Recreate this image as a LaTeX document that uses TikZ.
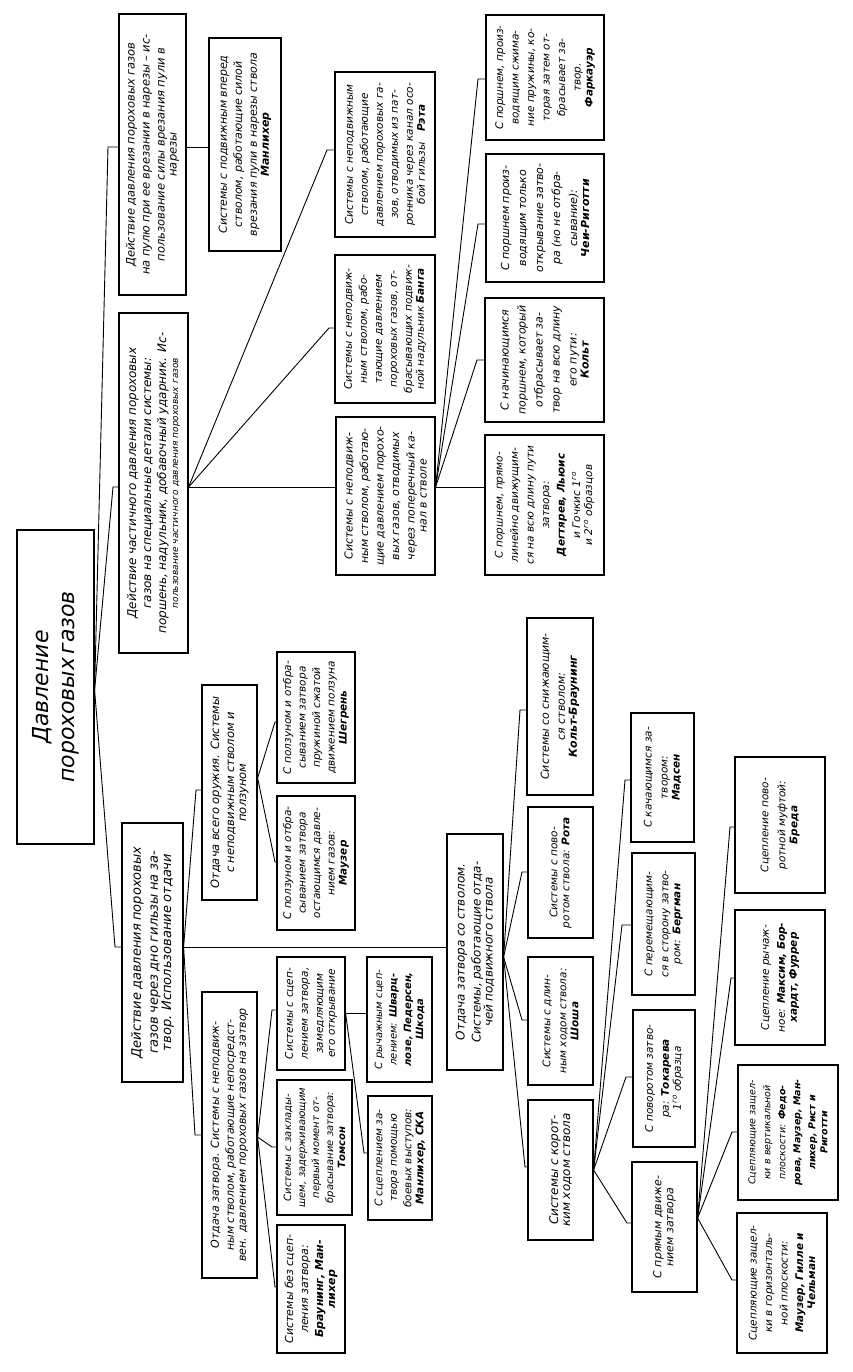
\documentclass[tikz,border=0pt]{standalone}
\usepackage{fontspec}
\setmainfont{DejaVu Sans}[ItalicFont={DejaVu Sans Oblique},BoldFont={DejaVu Sans Bold},BoldItalicFont={DejaVu Sans Bold Oblique}]
\tikzset{
  tbox/.style={draw, line width=1.2pt, rotate=90, inner sep=2pt, align=center, anchor=center, font=\itshape},
  conn/.style={line width=0.9pt}
}
\newcommand\Bx[8]{%
  \pgfmathsetmacro\bxcx{(#2+#4)/2}\pgfmathsetmacro\bxcy{(#3+#5)/2}%
  \pgfmathsetmacro\bxw{#5-#3}\pgfmathsetmacro\bxh{#4-#2}\pgfmathsetmacro\bxtw{#5-#3-8}%
  \node[tbox, minimum width=\bxw pt, minimum height=\bxh pt, text width=\bxtw pt] (#1) at (\bxcx,\bxcy) {\fontsize{#6}{#7}\selectfont #8};}
\newcommand\lnk[3]{\draw[conn] (#1) -- (#2) -- (#3.north |- #2);}
\begin{document}
\begin{tikzpicture}[x=1pt,y=-1pt]
\useasboundingbox (0,0) rectangle (852,1372);
\fill[white] (0,0) rectangle (852,1372);
% level 0
\Bx{R}{17}{530}{94}{844}{22}{26}{Давление\\[9pt]пороховых газов}
% level 1
\Bx{A1}{119}{14}{186}{295}{11.5}{15}{Действие давления пороховых газов\\на пулю при ее врезании в нарезы – ис-\\пользование силы врезания пули в\\нарезы}
\Bx{A2}{119}{313}{188}{653}{12}{15}{Действие частичного давления пороховых\\газов на специальные детали системы:\\поршень, надульник, добавочный ударник. Ис-\\{\fontsize{9}{12}\selectfont пользование частичного давления пороховых газов}}
\Bx{A3}{122}{823}{183}{1082}{13}{17}{Действие давления пороховых\\газов через дно гильзы на за-\\твор. Использование отдачи}
% A1 branch
\Bx{B1}{209}{38}{281}{251}{11}{15}{Системы с подвижным вперед\\стволом, работающие силой\\врезания пули в нарезы ствола\\\textbf{Манлихер}}
% A2 branch
\Bx{C3}{335}{72}{435}{237}{10.5}{15}{Системы с неподвижным\\стволом, работающие\\давлением пороховых га-\\зов, отводимых из пат-\\ронника через канал осо-\\бой гильзы\quad\textbf{Рэта}}
\Bx{C2}{335}{255}{435}{403}{10.5}{15}{Системы с неподвиж-\\ным стволом, рабо-\\тающие давлением\\пороховых газов, от-\\брасывающих подвиж-\\ной надульник \textbf{Банга}}
\Bx{C1}{336}{417}{435}{575}{11}{15.5}{Системы с неподвиж-\\ным стволом, работаю-\\щие давлением порохо-\\вых газов, отводимых\\через поперечный ка-\\нал в стволе}
\Bx{D4}{486}{15}{604}{140}{10.5}{15.5}{С поршнем, произ-\\водящим сжима-\\ние пружины, ко-\\торая затем от-\\брасывает за-\\твор.\\\textbf{Фаркауэр}}
\Bx{D3}{486}{154}{604}{282}{11}{17}{С поршнем произ-\\водящим только\\открывание затво-\\ра (но не отбра-\\сывание):\\\textbf{Чеи-Риготти}}
\Bx{D2}{485}{298}{604}{422}{11}{17}{С начинающимся\\поршнем, который\\отбрасывает за-\\твор на всю длину\\его пути:\\\textbf{Кольт}}
\Bx{D1}{485}{435}{604}{575}{10.5}{15.5}{С поршнем, прямо-\\линейно движущим-\\ся на всю длину пути\\затвора:\\\textbf{Дегтярев, Льюис}\\и Гочкис 1\textsuperscript{го}\\и 2\textsuperscript{го} образцов}
% A3 branch
\Bx{E1}{202}{685}{257}{900}{11.5}{15}{Отдача всего оружия. Системы\\с неподвижным стволом и\\ползуном}
\Bx{E0}{202}{992}{257}{1278}{11}{15}{Отдача затвора. Системы с неподвиж-\\ным стволом, работающие непосредст-\\вен. давлением пороховых газов на затвор}
\Bx{F1}{277}{652}{355}{783}{10.5}{14.5}{С ползуном и отбра-\\сыванием затвора\\пружиной сжатой\\движением ползуна\\\textbf{Шегрень}}
\Bx{F2}{277}{796}{355}{930}{10.5}{14.5}{С ползуном и отбра-\\сыванием затвора\\остающимся давле-\\нием газов:\\\textbf{Маузер}}
\Bx{G3}{277}{957}{345}{1070}{10.5}{15}{Системы с сцеп-\\лением затвора,\\замедляющим\\его открывание}
\Bx{G2}{277}{1080}{352}{1215}{10}{14}{Системы с заклады-\\шем, задерживающим\\первый момент от-\\брасывание затвора:\\\textbf{Томсон}}
\Bx{G1}{277}{1225}{345}{1353}{11}{15}{Системы без сцеп-\\ления затвора:\\\textbf{Браунинг, Ман-}\\\textbf{лихер}}
\Bx{H1}{367}{957}{432}{1082}{10}{14.5}{С рычажным сцеп-\\лением: \textbf{Шварц-}\\\textbf{лозе, Педерсен,}\\\textbf{Шкода}}
\Bx{H2}{368}{1096}{432}{1220}{10.5}{14.5}{С сцеплением за-\\твора помощью\\боевых выступов:\\\textbf{Манлихер, СКА}}
\Bx{E2}{447}{834}{503}{1070}{12}{16}{Отдача затвора со стволом.\\Системы, работающие отда-\\чей подвижного ствола}
\Bx{I4}{527}{618}{593}{795}{11}{16}{Системы со снижающим-\\ся стволом:\\\textbf{Кольт-Браунинг}}
\Bx{I3}{528}{807}{593}{938}{10.5}{17}{Системы с пово-\\ротом ствола: \textbf{Рота}}
\Bx{I2}{528}{957}{593}{1085}{10.5}{16}{Системы с длин-\\ным ходом ствола:\\\textbf{Шоша}}
\Bx{I1}{528}{1100}{593}{1240}{12}{17}{Системы с корот-\\ким ходом ствола}
\Bx{J4}{631}{713}{694}{842}{10.5}{16}{С качающимся за-\\твором:\\\textbf{Мадсен}}
\Bx{J3}{632}{853}{695}{995}{10.5}{16}{С перемещающим-\\ся в сторону затво-\\ром: \textbf{Бергман}}
\Bx{J1}{633}{1010}{695}{1147}{10.5}{16}{С поворотом затво-\\ра: \textbf{Токарева}\\1\textsuperscript{го} образца}
\Bx{J2}{632}{1162}{697}{1292}{11}{17}{С прямым движе-\\нием затвора}
\Bx{K4}{735}{757}{825}{893}{10.5}{17}{Сцепление пово-\\ротной муфтой:\\\textbf{Бреда}}
\Bx{K3}{735}{910}{825}{1045}{10.5}{16}{Сцепление рычаж-\\ное: \textbf{Максим, Бор-}\\\textbf{хардт, Фуррер}}
\Bx{K2}{738}{1065}{838}{1200}{9.5}{15}{Сцепляющие защел-\\ки в вертикальной\\плоскости: \textbf{Федо-}\\\textbf{рова, Маузер, Ман-}\\\textbf{лихер, Рист и}\\\textbf{Риготти}}
\Bx{K1}{737}{1213}{827}{1353}{10.5}{15.5}{Сцепляющие защел-\\ки в горизонталь-\\ной плоскости:\\\textbf{Маузер, Гилле и}\\\textbf{Чельман}}
% connection points
\coordinate (pR) at (R.south |- 0,690);
\coordinate (pA1) at (A1.south |- 0,147);
\coordinate (pA2) at (A2.south |- 0,487);
\coordinate (pA3) at (A3.south |- 0,947);
\coordinate (pC1) at (C1.south |- 0,487);
\coordinate (pE1) at (E1.south |- 0,778);
\coordinate (pE0) at (E0.south |- 0,1137);
\coordinate (pG3) at (G3.south |- 0,1013);
\coordinate (pE2) at (E2.south |- 0,957);
\coordinate (pI1) at (I1.south |- 0,1170);
\coordinate (pJ2) at (J2.south |- 0,1218);
% bends
\coordinate (bA1) at (108,147);
\coordinate (bA2) at (113,487);
\coordinate (bA3) at (115,947);
\coordinate (bC3) at (327,150);
\coordinate (bC2) at (329,328);
\coordinate (bD2) at (477,360);
\coordinate (bD3) at (478,224);
\coordinate (bD4) at (478,79);
\coordinate (bE1) at (196,790);
\coordinate (bE0) at (195,1135);
\coordinate (bF1) at (275,722);
\coordinate (bF2) at (275,862);
\coordinate (bG3) at (272,1010);
\coordinate (bG2) at (272,1147);
\coordinate (bG1) at (275,1287);
\coordinate (bH2) at (364,1153);
\coordinate (bI4) at (520,710);
\coordinate (bI3) at (522,872);
\coordinate (bI2) at (522,1020);
\coordinate (bI1) at (525,1167);
\coordinate (bJ4) at (625,780);
\coordinate (bJ3) at (622,925);
\coordinate (bJ1) at (626,1077);
\coordinate (bJ2) at (627,1223);
\coordinate (bK4) at (730,827);
\coordinate (bK3) at (731,978);
\coordinate (bK2) at (732,1132);
\coordinate (bK1) at (732,1280);
% connectors
\lnk{pR}{bA1}{A1}
\lnk{pR}{bA2}{A2}
\lnk{pR}{bA3}{A3}
\draw[conn] (pA1) -- (B1.north |- pA1);
\draw[conn] (pA2) -- (C1.north |- pA2);
\lnk{pA2}{bC3}{C3}
\lnk{pA2}{bC2}{C2}
\draw[conn] (pC1) -- (D1.north |- pC1);
\lnk{pC1}{bD2}{D2}
\lnk{pC1}{bD3}{D3}
\lnk{pC1}{bD4}{D4}
\draw[conn] (pA3) -- (E2.north |- pA3);
\lnk{pA3}{bE1}{E1}
\lnk{pA3}{bE0}{E0}
\lnk{pE1}{bF1}{F1}
\lnk{pE1}{bF2}{F2}
\lnk{pE0}{bG3}{G3}
\lnk{pE0}{bG2}{G2}
\lnk{pE0}{bG1}{G1}
\draw[conn] (pG3) -- (H1.north |- pG3);
\lnk{pG3}{bH2}{H2}
\lnk{pE2}{bI4}{I4}
\lnk{pE2}{bI3}{I3}
\lnk{pE2}{bI2}{I2}
\lnk{pE2}{bI1}{I1}
\lnk{pI1}{bJ4}{J4}
\lnk{pI1}{bJ3}{J3}
\lnk{pI1}{bJ1}{J1}
\lnk{pI1}{bJ2}{J2}
\lnk{pJ2}{bK4}{K4}
\lnk{pJ2}{bK3}{K3}
\lnk{pJ2}{bK2}{K2}
\lnk{pJ2}{bK1}{K1}
\end{tikzpicture}
\end{document}
